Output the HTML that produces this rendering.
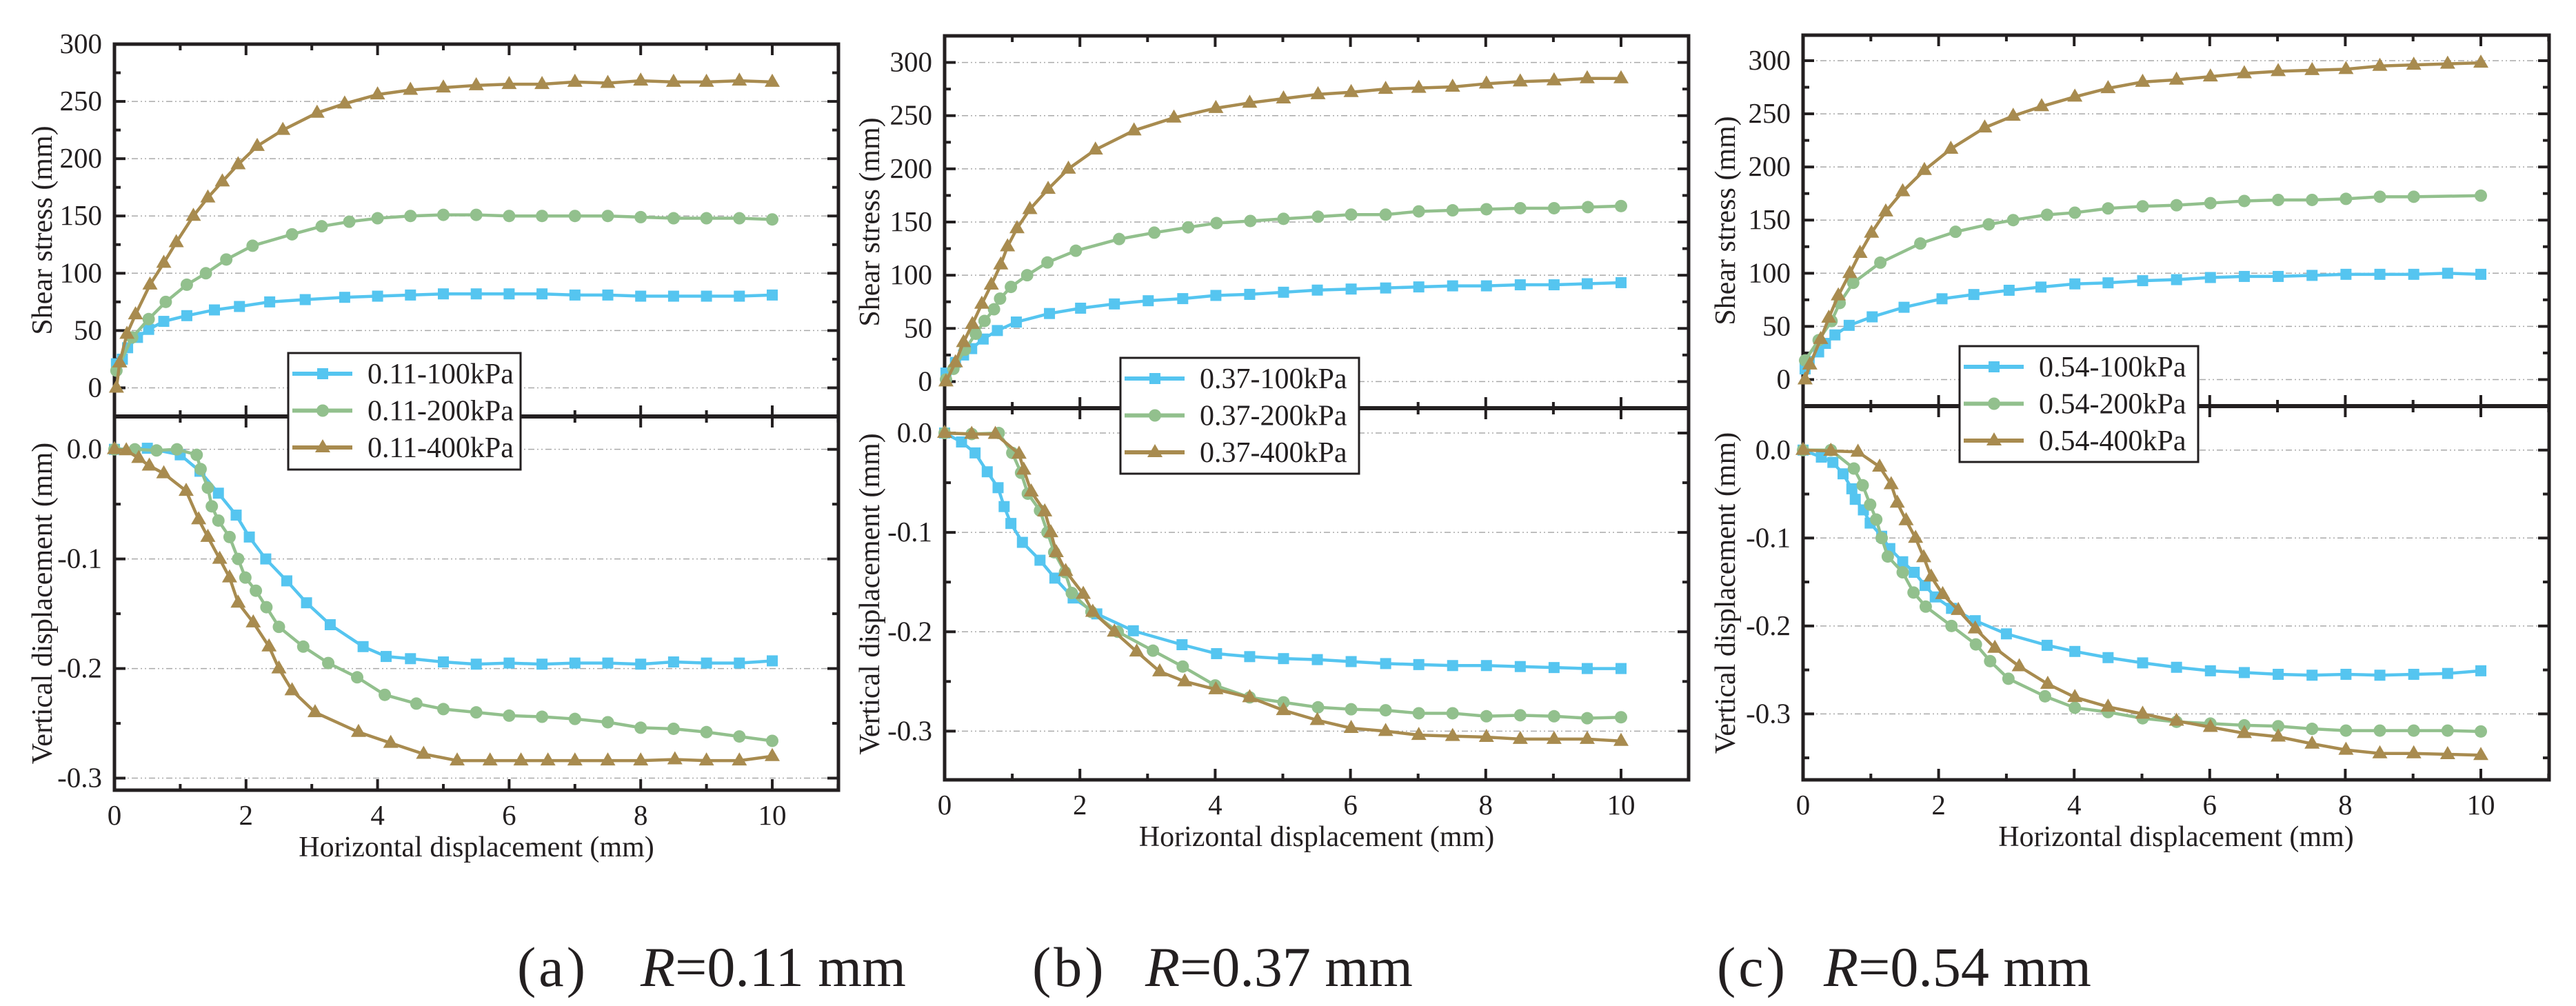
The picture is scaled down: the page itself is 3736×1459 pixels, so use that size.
<!DOCTYPE html>
<html><head><meta charset="utf-8"><style>
html,body{margin:0;padding:0;background:#fff;}
svg{display:block;}
text{font-family:"Liberation Serif",serif;fill:#231f20;}
</style></head><body>
<svg id="chart" width="3736" height="1459" viewBox="0 0 3736 1459" xmlns="http://www.w3.org/2000/svg"></svg>
<script>
// ---- data: panel (a) R=0.11 ----
const aTopX100=[0.03,0.12,0.2,0.35,0.52,0.75,1.1,1.52,1.9,2.36,2.9,3.5,4,4.5,5,5.5,6,6.5,7,7.5,8,8.5,9,9.5,10];
const aTopY100=[21,25,35,44,51,58,63,68,71,75,77,79,80,81,82,82,82,82,81,81,80,80,80,80,81];
const aTopX200=[0.03,0.27,0.52,0.78,1.1,1.39,1.7,2.1,2.7,3.15,3.57,4,4.5,5,5.5,6,6.5,7,7.5,8,8.5,9,9.5,10];
const aTopY200=[15,44,60,75,90,100,112,124,134,141,145,148,150,151,151,150,150,150,150,149,148,148,148,147];
const aTopX400=[0.03,0.08,0.19,0.32,0.54,0.75,0.94,1.2,1.42,1.64,1.88,2.17,2.56,3.08,3.5,4,4.5,5,5.5,6,6.5,7,7.5,8,8.5,9,9.5,10];
const aTopY400=[0,22,47,64,90,109,127,150,166,180,195,211,225,240,248,256,260,262,264,265,265,267,266,268,267,267,268,267];
const aBotX100=[0,0.5,1.0,1.3,1.58,1.85,2.05,2.3,2.62,2.92,3.28,3.78,4.13,4.5,5,5.5,6,6.5,7,7.5,8,8.5,9,9.5,10];
const aBotY100=[0,0.001,-0.005,-0.02,-0.04,-0.06,-0.08,-0.10,-0.12,-0.14,-0.16,-0.18,-0.189,-0.191,-0.194,-0.196,-0.195,-0.196,-0.195,-0.195,-0.196,-0.194,-0.195,-0.195,-0.193];
const aBotX200=[0,0.31,0.64,0.95,1.25,1.31,1.42,1.48,1.58,1.75,1.88,1.99,2.15,2.31,2.5,2.87,3.25,3.69,4.11,4.59,5,5.5,6,6.5,7,7.5,8,8.5,9,9.5,10];
const aBotY200=[0,0,-0.001,0,-0.005,-0.018,-0.035,-0.052,-0.065,-0.08,-0.10,-0.117,-0.129,-0.144,-0.162,-0.18,-0.195,-0.208,-0.224,-0.232,-0.237,-0.24,-0.243,-0.244,-0.246,-0.249,-0.254,-0.255,-0.258,-0.262,-0.266];
const aBotX400=[0,0.18,0.37,0.53,0.75,1.09,1.28,1.42,1.6,1.75,1.88,2.11,2.35,2.5,2.7,3.05,3.71,4.2,4.7,5.21,5.71,6.18,6.59,7,7.5,8,8.52,9,9.5,10];
const aBotY400=[0,-0.001,-0.008,-0.015,-0.022,-0.038,-0.064,-0.08,-0.1,-0.117,-0.14,-0.158,-0.18,-0.2,-0.22,-0.24,-0.258,-0.268,-0.278,-0.284,-0.284,-0.284,-0.284,-0.284,-0.284,-0.284,-0.283,-0.284,-0.284,-0.28];
// ---- data: panel (b) R=0.37 ----
const bTopX100=[0.02,0.16,0.28,0.4,0.57,0.78,1.06,1.55,2.01,2.51,3.01,3.52,4.01,4.51,5.01,5.51,6.01,6.52,7.01,7.51,8.01,8.51,9.01,9.5,10];
const bTopY100=[8,18,25,31,40,48,56,64,69,73,76,78,81,82,84,86,87,88,89,90,90,91,91,92,93];
const bTopX200=[0.02,0.13,0.3,0.46,0.59,0.73,0.82,0.98,1.22,1.52,1.94,2.58,3.1,3.6,4.02,4.52,5.01,5.52,6.01,6.52,7.01,7.51,8.01,8.51,9.01,9.51,10];
const bTopY200=[2,12,30,45,57,68,78,89,100,112,123,134,140,145,149,151,153,155,157,157,160,161,162,163,163,164,165];
const bTopX400=[0.02,0.16,0.28,0.41,0.55,0.69,0.83,0.93,1.07,1.26,1.53,1.83,2.23,2.8,3.39,4.01,4.51,5.01,5.52,6.01,6.52,7.01,7.51,8.01,8.51,9.01,9.5,10];
const bTopY400=[0,18,37,54,73,91,110,127,144,162,181,200,218,236,248,257,262,266,270,272,275,276,277,280,282,283,285,285];
const bBotX100=[0,0.25,0.45,0.63,0.79,0.88,0.98,1.15,1.41,1.63,1.9,2.25,2.79,3.51,4.02,4.51,5.01,5.51,6.01,6.52,7.01,7.51,8.01,8.51,9.01,9.5,10];
const bBotY100=[0,-0.009,-0.02,-0.039,-0.055,-0.074,-0.091,-0.11,-0.128,-0.146,-0.166,-0.182,-0.199,-0.213,-0.222,-0.225,-0.227,-0.228,-0.23,-0.232,-0.233,-0.234,-0.234,-0.235,-0.236,-0.237,-0.237];
const bBotX200=[0,0.4,0.8,1.0,1.13,1.23,1.41,1.52,1.62,1.78,1.88,2.17,2.56,3.08,3.52,4.0,4.51,5.01,5.52,6.01,6.52,7.01,7.51,8.01,8.51,9.01,9.5,10];
const bBotY200=[0,-0.001,0,-0.02,-0.04,-0.061,-0.078,-0.1,-0.12,-0.14,-0.161,-0.18,-0.2,-0.219,-0.235,-0.254,-0.266,-0.271,-0.276,-0.278,-0.279,-0.282,-0.282,-0.285,-0.284,-0.285,-0.287,-0.286];
const bBotX400=[0,0.4,0.75,1.1,1.17,1.28,1.48,1.57,1.65,1.79,2.05,2.19,2.51,2.84,3.18,3.55,4.01,4.51,5.01,5.51,6.01,6.52,7.01,7.51,8.01,8.51,9.01,9.5,10];
const bBotY400=[0,-0.001,-0.001,-0.021,-0.037,-0.059,-0.079,-0.1,-0.12,-0.139,-0.162,-0.18,-0.2,-0.22,-0.24,-0.25,-0.258,-0.266,-0.279,-0.289,-0.297,-0.3,-0.304,-0.305,-0.306,-0.308,-0.308,-0.308,-0.31];
// ---- data: panel (c) R=0.54 ----
const cTopX100=[0.03,0.09,0.23,0.33,0.47,0.68,1.02,1.49,2.05,2.52,3.04,3.51,4.01,4.5,5.01,5.51,6.01,6.51,7.01,7.51,8.01,8.51,9.01,9.51,10];
const cTopY100=[10,17,26,34,42,51,59,68,76,80,84,87,90,91,93,94,96,97,97,98,99,99,99,100,99];
const cTopX200=[0.03,0.23,0.42,0.54,0.74,1.14,1.73,2.25,2.74,3.1,3.6,4.01,4.5,5.01,5.51,6.01,6.51,7.01,7.51,8.01,8.51,9.01,10];
const cTopY200=[18,37,55,72,91,110,128,139,146,150,155,157,161,163,164,166,168,169,169,170,172,172,173];
const cTopX400=[0.03,0.1,0.26,0.38,0.52,0.69,0.84,1.01,1.22,1.47,1.79,2.18,2.68,3.1,3.52,4.01,4.5,5.01,5.51,6.01,6.51,7.01,7.51,8.01,8.51,9.01,9.51,10];
const cTopY400=[0,14,38,58,79,100,119,138,158,177,197,217,237,248,257,266,274,280,282,285,288,290,291,292,295,296,297,298];
const cBotX100=[0,0.27,0.44,0.59,0.72,0.77,0.89,0.99,1.16,1.28,1.47,1.64,1.8,1.95,2.19,2.54,3.0,3.6,4.01,4.5,5.01,5.51,6.01,6.51,7.01,7.51,8.01,8.51,9.01,9.51,10];
const cBotY100=[0,-0.008,-0.014,-0.027,-0.044,-0.056,-0.068,-0.083,-0.098,-0.112,-0.127,-0.139,-0.154,-0.167,-0.18,-0.194,-0.209,-0.222,-0.229,-0.236,-0.242,-0.247,-0.251,-0.253,-0.255,-0.256,-0.255,-0.256,-0.255,-0.254,-0.251];
const cBotX200=[0,0.41,0.75,0.88,0.99,1.08,1.16,1.25,1.47,1.63,1.81,2.19,2.55,2.76,3.03,3.57,4.01,4.5,5.01,5.51,6.01,6.51,7.01,7.51,8.01,8.51,9.01,9.51,10];
const cBotY200=[0,0,-0.021,-0.04,-0.062,-0.079,-0.1,-0.121,-0.139,-0.162,-0.178,-0.2,-0.221,-0.24,-0.26,-0.28,-0.293,-0.298,-0.305,-0.309,-0.311,-0.313,-0.314,-0.317,-0.319,-0.319,-0.319,-0.319,-0.32];
const cBotX400=[0,0.41,0.81,1.13,1.3,1.39,1.52,1.66,1.78,1.89,2.06,2.29,2.54,2.83,3.19,3.61,4.01,4.5,5.01,5.51,6.01,6.51,7.01,7.51,8.01,8.51,9.01,9.51,10];
const cBotY400=[0,-0.001,-0.002,-0.019,-0.039,-0.06,-0.08,-0.1,-0.122,-0.144,-0.164,-0.182,-0.203,-0.225,-0.246,-0.266,-0.281,-0.292,-0.3,-0.308,-0.315,-0.322,-0.326,-0.334,-0.341,-0.345,-0.345,-0.346,-0.347];
// ---- tick labels ----
const xTickLabels=["0","2","4","6","8","10"];
const topTickLabels=["0","50","100","150","200","250","300"];
const botTickLabels=["-0.3","-0.2","-0.1","0.0"];
const legendNames=["100kPa","200kPa","400kPa"];
const panelRadii=["0.11","0.37","0.54"];

const NS="http://www.w3.org/2000/svg";
const svg=document.getElementById('chart');
function mk(tag,attrs,parent){const e=document.createElementNS(NS,tag);for(const k in attrs)e.setAttribute(k,attrs[k]);(parent||svg).appendChild(e);return e;}
const colors=["#55c5f0","#92c08d","#a88b4f"];
const markers=["square","circle","triangle"];

const panels=[
 {id:"a",L:166,R:1216,x10:1120,T:64,D:604,B:1146,tMin:-25,tMax:300,bMin:-0.311,bMax:0.030,
  top:[[aTopX100,aTopY100],[aTopX200,aTopY200],[aTopX400,aTopY400]],
  bot:[[aBotX100,aBotY100],[aBotX200,aBotY200],[aBotX400,aBotY400]],
  leg:{x:418,y:512,w:337,h:169},ttlX:62,tickY:1196,xtY:1242},
 {id:"b",L:1370,R:2449,x10:2351,T:52,D:592,B:1131,tMin:-25,tMax:325,bMin:-0.349,bMax:0.025,
  top:[[bTopX100,bTopY100],[bTopX200,bTopY200],[bTopX400,bTopY400]],
  bot:[[bBotX100,bBotY100],[bBotX200,bBotY200],[bBotX400,bBotY400]],
  leg:{x:1625,y:519,w:346,h:168},ttlX:1262,tickY:1181,xtY:1227},
 {id:"c",L:2615,R:3697,x10:3598,T:51,D:589,B:1131,tMin:-25,tMax:324,bMin:-0.375,bMax:0.05,
  top:[[cTopX100,cTopY100],[cTopX200,cTopY200],[cTopX400,cTopY400]],
  bot:[[cBotX100,cBotY100],[cBotX200,cBotY200],[cBotX400,cBotY400]],
  leg:{x:2842,y:502,w:346,h:168},ttlX:2503,tickY:1181,xtY:1227}
];

function marker(g,type,cx,cy,col){
  let m;
  if(type==="square") m=mk('rect',{x:cx-8,y:cy-8,width:16,height:16,fill:col},g);
  else if(type==="circle") m=mk('circle',{cx:cx,cy:cy,r:9,fill:col},g);
  else m=mk('polygon',{points:`${cx},${cy-12} ${cx+11},${cy+7} ${cx-11},${cy+7}`,fill:col},g);
  return m;
}

panels.forEach((p,pi)=>{
  const pg=mk('g',{});
  
  
  const sx=v=>p.L+(p.x10-p.L)*v/10;
  const syT=v=>p.D-(p.D-p.T)*(v-p.tMin)/(p.tMax-p.tMin);
  const syB=v=>p.B-(p.B-p.D)*(v-p.bMin)/(p.bMax-p.bMin);
  const grid=mk('g',{stroke:"#aaa",'stroke-width':1.5,'stroke-dasharray':"9 4 2 4 2 4"},pg);
  
  
  topTickLabels.forEach(t=>{const y=syT(+t);mk('line',{x1:p.L,x2:p.R,y1:y,y2:y},grid);});
  botTickLabels.forEach(t=>{const y=syB(+t);mk('line',{x1:p.L,x2:p.R,y1:y,y2:y},grid);});
  const tk=mk('g',{stroke:"#231f20",'stroke-width':4},pg);
  
  
  for(let v=0;v<=11;v++){
    const x=sx(v),len=v%2===0?16:9;
    [[p.T,1],[p.D,-1],[p.D,1],[p.B,-1]].forEach(([y,d])=>mk('line',{x1:x,x2:x,y1:y,y2:y+d*len},tk));
  }
  for(let v=-25;v<=p.tMax;v+=25){const y=syT(v);if(y<p.T+2)continue;const len=v%50===0?16:9;
    mk('line',{x1:p.L,x2:p.L+len,y1:y,y2:y},tk);mk('line',{x1:p.R,x2:p.R-len,y1:y,y2:y},tk);}
  for(let k=Math.ceil(p.bMin/0.05);k*0.05<=p.bMax;k++){const v=k*0.05;const y=syB(v);const len=(Math.abs(k)%2===0)?16:9;
    mk('line',{x1:p.L,x2:p.L+len,y1:y,y2:y},tk);mk('line',{x1:p.R,x2:p.R-len,y1:y,y2:y},tk);}
  const fr=mk('rect',{x:p.L,y:p.T,width:p.R-p.L,height:p.B-p.T,fill:"none",stroke:"#231f20",'stroke-width':5},pg);
  
  
  const dv=mk('line',{x1:p.L,x2:p.R,y1:p.D,y2:p.D,stroke:"#231f20",'stroke-width':6},pg);
  
  
  xTickLabels.forEach(t=>{const e=mk('text',{x:sx(+t),y:p.tickY,'font-size':41,'text-anchor':'middle'},pg);e.textContent=t;
    });
  topTickLabels.forEach(t=>{const e=mk('text',{x:p.L-18,y:syT(+t)+13,'font-size':41,'text-anchor':'end'},pg);e.textContent=t;
    });
  botTickLabels.forEach(t=>{const e=mk('text',{x:p.L-18,y:syB(+t)+13,'font-size':41,'text-anchor':'end'},pg);e.textContent=t;
    });
  let e=mk('text',{x:(p.L+p.R)/2,y:p.xtY,'font-size':42,'text-anchor':'middle'},pg);e.textContent="Horizontal displacement (mm)";
  
  let cy=(p.T+p.D)/2;
  e=mk('text',{x:p.ttlX,y:cy,'font-size':42,'text-anchor':'middle',transform:`rotate(-90 ${p.ttlX} ${cy})`,'dominant-baseline':'central'},pg);e.textContent="Shear stress (mm)";
  
  cy=(p.D+p.B)/2;
  e=mk('text',{x:p.ttlX,y:cy,'font-size':42,'text-anchor':'middle',transform:`rotate(-90 ${p.ttlX} ${cy})`,'dominant-baseline':'central'},pg);e.textContent="Vertical displacement (mm)";
  
  [[p.top,syT,'shear'],[p.bot,syB,'vertical']].forEach(([arr,sy,nm])=>{
    arr.forEach(([xs,ys],si)=>{
      const g=mk('g',{},pg);
      
      
      const pts=xs.map((x,i)=>sx(x)+','+sy(ys[i])).join(' ');
      mk('polyline',{points:pts,fill:'none',stroke:colors[si],'stroke-width':4.5,'stroke-linejoin':'round'},g);
      xs.forEach((x,i)=>{const m=marker(g,markers[si],sx(x),sy(ys[i]),colors[si]);
        
        });
    });
  });
  const lg=mk('g',{},pg);
  
  
  mk('rect',{x:p.leg.x,y:p.leg.y,width:p.leg.w,height:p.leg.h,fill:'#fff',stroke:'#231f20','stroke-width':3},lg);
  legendNames.forEach((n,i)=>{
    const y=p.leg.y+30+i*53.5;
    const le=mk('g',{},lg);
    
    
    mk('line',{x1:p.leg.x+6,x2:p.leg.x+93,y1:y,y2:y,stroke:colors[i],'stroke-width':6},le);
    marker(le,markers[i],p.leg.x+50,y,colors[i]);
    const t=mk('text',{x:p.leg.x+115,y:y+14,'font-size':42},le);t.textContent=panelRadii[pi]+"-"+n;
  });
});
[["(a)",750,"0.11",929],["(b)",1497,"0.37",1661],["(c)",2490,"0.54",2645]].forEach(([l,x1,r,x2])=>{
  const g=mk('g',{});
  
  
  let t=mk('text',{x:x1,y:1430,'font-size':82,'letter-spacing':4},g);t.textContent=l;
  t=mk('text',{x:x2,y:1430,'font-size':82},g);
  const it=mk('tspan',{'font-style':'italic'},t);it.textContent="R";
  const rest=mk('tspan',{},t);rest.textContent="="+r+" mm";
});
</script>
</body></html>
